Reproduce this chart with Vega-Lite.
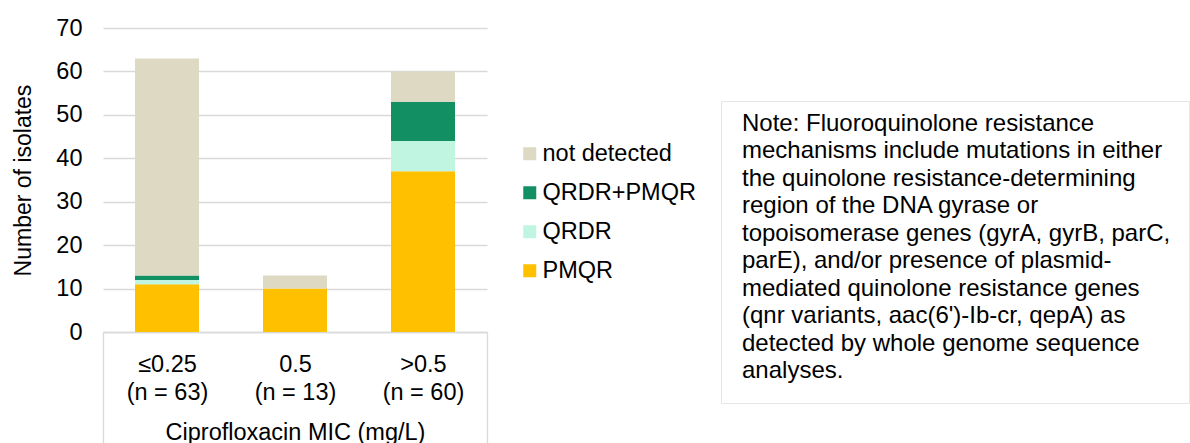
{
  "$schema": "https://vega.github.io/schema/vega-lite/v6.json",
  "background": "white",
  "padding": {"left": 12, "top": 16, "right": 0, "bottom": 0},
  "spacing": 24,
  "config": {
    "font": "Liberation Sans",
    "view": {"stroke": null},
    "axis": {"labelFont": "Liberation Sans", "titleFont": "Liberation Sans", "labelColor": "#000000", "titleColor": "#000000", "titleFontWeight": "normal"},
    "legend": {"labelFont": "Liberation Sans", "labelColor": "#000000"}
  },
  "resolve": {"scale": {"color": "independent"}, "legend": {"color": "independent"}},
  "hconcat": [
    {
      "width": 384,
      "height": 304,
      "data": {"values": [
        {"mic": "≤0.25", "mechanism": "PMQR", "count": 11},
        {"mic": "≤0.25", "mechanism": "QRDR", "count": 1},
        {"mic": "≤0.25", "mechanism": "QRDR+PMQR", "count": 1},
        {"mic": "≤0.25", "mechanism": "not detected", "count": 50},
        {"mic": "0.5", "mechanism": "PMQR", "count": 10},
        {"mic": "0.5", "mechanism": "not detected", "count": 3},
        {"mic": ">0.5", "mechanism": "PMQR", "count": 37},
        {"mic": ">0.5", "mechanism": "QRDR", "count": 7},
        {"mic": ">0.5", "mechanism": "QRDR+PMQR", "count": 9},
        {"mic": ">0.5", "mechanism": "not detected", "count": 7}
      ]},
      "mark": {"type": "bar", "width": {"band": 0.5}},
      "encoding": {
        "x": {
          "field": "mic", "type": "nominal", "sort": ["≤0.25", "0.5", ">0.5"],
          "scale": {"paddingInner": 0, "paddingOuter": 0},
          "axis": {
            "title": "Ciprofloxacin MIC (mg/L)",
            "labelAngle": 0,
            "labelFontSize": 23.5,
            "labelLineHeight": 28,
            "labelBaseline": "top",
            "labelExpr": "datum.label === '≤0.25' ? ['≤0.25', '(n = 63)'] : (datum.label === '0.5' ? ['0.5', '(n = 13)'] : (datum.label === '>0.5' ? ['>0.5', '(n = 60)'] : ''))",
            "labelPadding": -95,
            "tickBand": "extent",
            "tickSize": 115,
            "tickWidth": 1.3,
            "tickColor": {"condition": {"test": "datum.extra || datum.value === '>0.5'", "value": "#d9d9d9"}, "value": "transparent"},
            "domainColor": "#d9d9d9",
            "domainWidth": 1.3,
            "grid": false,
            "titleFontSize": 23.5,
            "titleBaseline": "alphabetic",
            "titleY": 107.5
          }
        },
        "y": {
          "field": "count", "type": "quantitative",
          "scale": {"domain": [0, 70]},
          "axis": {
            "title": "Number of isolates",
            "titleFontSize": 23,
            "titlePadding": 20,
            "labelFontSize": 23.5,
            "labelPadding": 21,
            "values": [0, 10, 20, 30, 40, 50, 60, 70],
            "domain": false,
            "ticks": false,
            "gridColor": "#d9d9d9",
            "gridWidth": 1.3
          }
        },
        "color": {
          "field": "mechanism", "type": "nominal",
          "scale": {"domain": ["not detected", "QRDR+PMQR", "QRDR", "PMQR"], "range": ["#ddd9c3", "#138f64", "#c0f5e2", "#ffc000"]},
          "legend": {
            "orient": "none", "legendX": 415, "legendY": 114,
            "title": null,
            "labelFontSize": 23.5,
            "symbolType": "square", "symbolSize": 169, "symbolStrokeWidth": 0,
            "rowPadding": 14, "labelOffset": 1, "padding": 0
          }
        },
        "order": {"field": "mechanism", "sort": "ascending"}
      }
    },
    {
      "spacing": 0,
      "vconcat": [
        {
          "width": 468,
          "height": 72,
          "data": {"values": []},
          "mark": {"type": "text"},
          "encoding": {}
        },
        {
          "width": 468,
          "height": 302,
          "view": {"stroke": "#e6e6e6", "strokeWidth": 1},
          "data": {"values": [
            {"line": 1, "text": "Note: Fluoroquinolone resistance"},
            {"line": 2, "text": "mechanisms include mutations in either"},
            {"line": 3, "text": "the quinolone resistance-determining"},
            {"line": 4, "text": "region of the DNA gyrase or"},
            {"line": 5, "text": "topoisomerase genes (gyrA, gyrB, parC,"},
            {"line": 6, "text": "parE), and/or presence of plasmid-"},
            {"line": 7, "text": "mediated quinolone resistance genes"},
            {"line": 8, "text": "(qnr variants, aac(6')-Ib-cr, qepA) as"},
            {"line": 9, "text": "detected by whole genome sequence"},
            {"line": 10, "text": "analyses."}
          ]},
          "mark": {"type": "text", "align": "left", "baseline": "alphabetic", "fontSize": 24, "font": "Liberation Sans", "color": "#000000", "dx": 21, "dy": 2.5},
          "encoding": {
            "x": {"datum": 0, "type": "quantitative", "scale": {"domain": [0, 1]}, "axis": null},
            "y": {"field": "line", "type": "ordinal", "scale": {"type": "point", "padding": 1.031}, "axis": null},
            "text": {"field": "text"}
          }
        }
      ]
    }
  ]
}
